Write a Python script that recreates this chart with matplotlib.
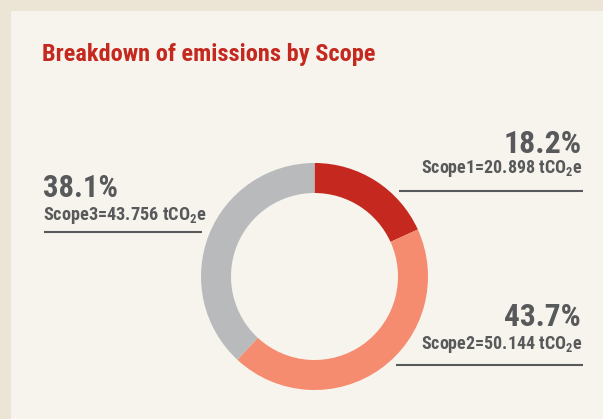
import matplotlib
matplotlib.use("Agg")
import matplotlib.pyplot as plt
from matplotlib import font_manager as fm
from matplotlib.patches import Rectangle

# Emission data (tCO2e)
scopes = ["Scope1", "Scope2", "Scope3"]
values = [20.898, 50.144, 43.756]
colors = ["#c4281e", "#f58b6f", "#b9babc"]
title = "Breakdown of emissions by Scope"


def pick_font(candidates):
    bold = {f.name for f in fm.fontManager.ttflist if f.weight in (700, "bold")}
    for name in candidates:
        if name in bold:
            return name
    return "DejaVu Sans"


FONT = pick_font(["Roboto Condensed", "Archivo Narrow", "PT Sans Narrow",
                  "Pragati Narrow", "Encode Sans Condensed", "Barlow Semi Condensed",
                  "Encode Sans Semi Condensed", "IBM Plex Sans Condensed",
                  "Barlow Condensed", "Liberation Sans Narrow"])
plt.rcParams["mathtext.fontset"] = "custom"
for key in ("rm", "bf", "it", "sf"):
    plt.rcParams["mathtext." + key] = FONT + ":bold"

W, H = 603, 419
fig = plt.figure(figsize=(W / 100, H / 100), dpi=100)
fig.patch.set_facecolor("#ece4d5")

# Full-figure overlay in pixel coordinates (origin top-left)
bg = fig.add_axes([0, 0, 1, 1])
bg.set_xlim(0, W)
bg.set_ylim(H, 0)
bg.axis("off")
bg.add_patch(Rectangle((11, 11), W - 11, H - 11, facecolor="#f7f4ed", edgecolor="none"))

# Donut
cx, cy, R = 314.5, 276.5, 113.5
inner = 83.5
pie_ax = fig.add_axes([(cx - R) / W, (H - cy - R) / H, 2 * R / W, 2 * R / H])
pie_ax.pie(values, colors=colors, startangle=90, counterclock=False,
           radius=1, wedgeprops=dict(width=1 - inner / R, edgecolor="none"))
pie_ax.set_xlim(-1, 1)
pie_ax.set_ylim(-1, 1)
pie_ax.set_aspect("equal")
pie_ax.axis("off")

# Text overlay above the donut
ov = fig.add_axes([0, 0, 1, 1])
ov.set_xlim(0, W)
ov.set_ylim(H, 0)
ov.axis("off")
ov.patch.set_alpha(0)

renderer = fig.canvas.get_renderer()
CAP = 0.711  # cap height as a fraction of the em size


def fitted_text(x, y, s, width, cap_px, color, ha):
    """Bold label sized as a compromise between a target width and cap height."""
    t = ov.text(x, y, s, color=color, fontsize=12, fontweight="bold",
                family=FONT, va="baseline", ha=ha)
    w = t.get_window_extent(renderer).width
    by_width = 12 * width / w
    by_height = cap_px / CAP * 72 / 100
    t.set_fontsize((by_width * by_height) ** 0.5)
    return t


fitted_text(42, 61, title, 328, 17.7, "#c4281e", "left")

total = sum(values)
pct = [v / total * 100 for v in values]
grey = "#58595b"
lw = 1.5

# Scope1 (right, top)
fitted_text(582, 153, f"{pct[0]:.1f}%", 78, 22.5, grey, "right")
fitted_text(582, 173, f"{scopes[0]}={values[0]:.3f} tCO$_2$e", 158, 13, grey, "right")
ov.plot([399, 583], [191, 191], color=grey, lw=lw, solid_capstyle="butt")

# Scope3 (left)
fitted_text(43, 197, f"{pct[2]:.1f}%", 72, 22.5, grey, "left")
fitted_text(43, 220, f"{scopes[2]}={values[2]:.3f} tCO$_2$e", 163, 13, grey, "left")
ov.plot([44, 202], [232, 232], color=grey, lw=lw, solid_capstyle="butt")

# Scope2 (right, bottom)
fitted_text(581, 326, f"{pct[1]:.1f}%", 76, 22.5, grey, "right")
fitted_text(582, 349, f"{scopes[1]}={values[1]:.3f} tCO$_2$e", 159, 13, grey, "right")
ov.plot([396, 583], [365, 365], color=grey, lw=lw, solid_capstyle="butt")

fig.savefig("out.png", dpi=100, facecolor=fig.get_facecolor())
